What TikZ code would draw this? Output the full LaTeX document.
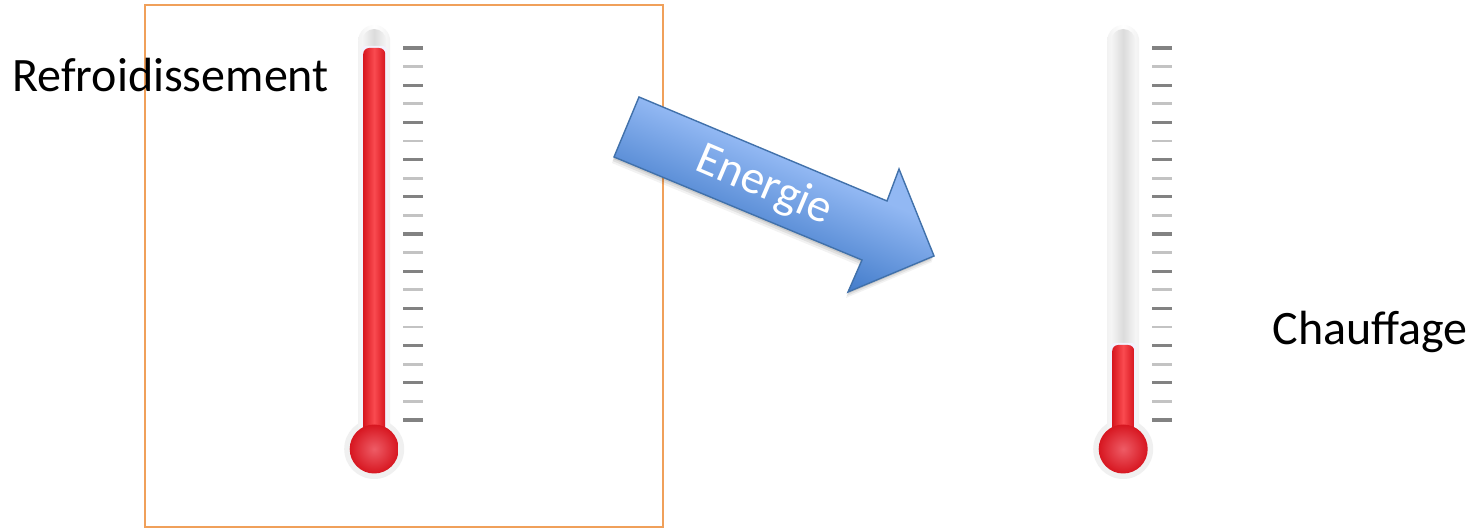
\documentclass[tikz,border=0pt]{standalone}
\usepackage{fontspec}
\setmainfont{Carlito}
\definecolor{frameor}{RGB}{240,160,90}
\definecolor{arrowline}{RGB}{65,113,170}
\definecolor{arrowlight}{RGB}{146,184,243}
\definecolor{arrowdark}{RGB}{68,125,203}
\definecolor{reddark}{RGB}{215,22,32}
\definecolor{redlight}{RGB}{250,75,80}
\definecolor{bulbmid}{RGB}{238,92,102}
\definecolor{tickdark}{RGB}{130,130,130}
\definecolor{ticklight}{RGB}{195,195,195}
\tikzset{
  x=0.5pt,y=-0.5pt,
  label text/.style={font=\fontsize{24pt}{28pt}\selectfont,text=black,inner sep=0pt,anchor=base west},
  frame box/.style={draw=frameor,line width=0.8pt},
  tickdk/.style={draw=tickdark,line width=1.6pt},
  ticklt/.style={draw=ticklight,line width=1.4pt},
}
\newcommand{\arrowpath}{(639,97) -- (887,201) -- (899,169) -- (934,256) -- (848,292) -- (862,260) -- (614,157) -- cycle}
% #1 = x of the tube centre, #2 = y of the top of the red column
\newcommand{\thermo}[2]{%
  \begin{scope}[shift={(#1,0)}]
    \fill[black!6] (0,449) circle (30);
    \shade[left color=black!5,right color=black!5,middle color=white]
      (-16,440) -- (-16,41) arc[start angle=180,end angle=360,radius=16] -- (16,440) -- cycle;
    \shade[left color=black!4,right color=black!4,middle color=black!14]
      (-12,440) -- (-12,41) arc[start angle=180,end angle=360,radius=12] -- (12,440) -- cycle;
    \fill[black!12!blue!5,rounded corners=2pt] (-13,440) rectangle (13,#2-2);
    \shade[left color=reddark,right color=reddark,middle color=redlight,rounded corners=3pt]
      (-11,440) -- (-11,#2) -- (11,#2) -- (11,440) -- cycle;
    \shade[inner color=bulbmid,outer color=reddark] (0,449) circle (24.5);
    \foreach \k in {0,2,...,20}
      \draw[tickdk] (29,48+18.6*\k) -- (49,48+18.6*\k);
    \foreach \k in {1,3,...,19}
      \draw[ticklt] (29,48+18.6*\k) -- (49,48+18.6*\k);
  \end{scope}%
}
\begin{document}
\begin{tikzpicture}
  \useasboundingbox (0,0) rectangle (1471,528);
  \fill[white] (0,0) rectangle (1471,528);
  \draw[frame box] (145,5) rectangle (663,527);
  \thermo{374.2}{48}
  \thermo{1123.2}{345}
  \node[label text] (cool) at (12,92) {Refroidissement};
  \node[label text] (heat) at (1272,345) {Chauffage};
  % arrow shadow
  \foreach \d/\o in {6/.05,4/.07,2/.09}
    \fill[black,opacity=\o,shift={(-\d*0.35,\d)}] \arrowpath;
  % arrow body, with a gradient across the arrow's own axis
  \begin{scope}
    \clip \arrowpath;
    \fill[arrowlight] (600,80) rectangle (950,300);
    \fill[arrowdark,transform canvas={rotate around={-23:(639,97)}}] (500,190) rectangle (1100,360);
    \shade[top color=arrowlight,bottom color=arrowdark,transform canvas={rotate around={-23:(639,97)}}]
      (500,97) rectangle (1100,192);
  \end{scope}
  \draw[arrowline,line width=0.7pt,line join=miter] \arrowpath;
  \node[font=\fontsize{23.5pt}{26pt}\selectfont,text=white,rotate=-23,inner sep=0pt] (energy) at (764,186) {Energie};
\end{tikzpicture}
\end{document}
